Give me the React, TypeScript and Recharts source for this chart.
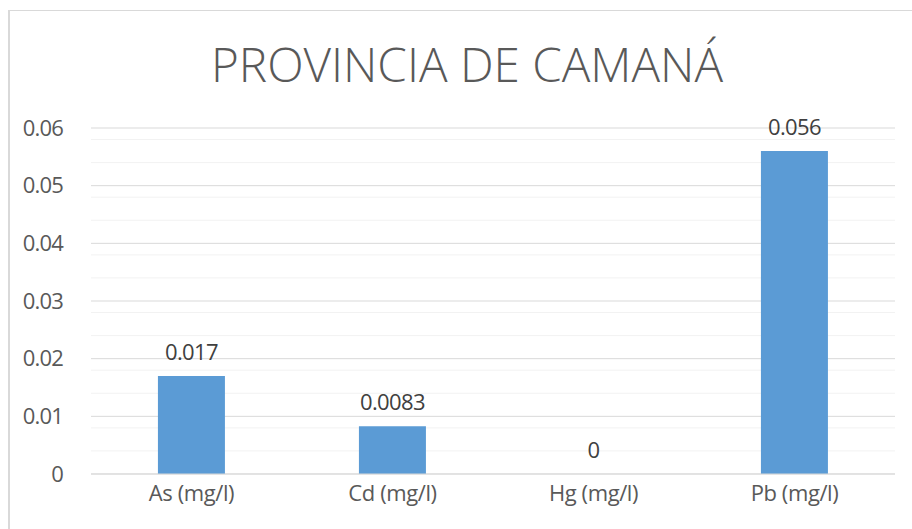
import React from "react";
import { ComposedChart, Bar, Line, XAxis, YAxis, CartesianGrid } from "recharts";

const categories = ["As (mg/l)", "Cd (mg/l)", "Hg (mg/l)", "Pb (mg/l)"];
const values = [0.017, 0.0083, 0, 0.056];
const yTicks = [0, 0.01, 0.02, 0.03, 0.04, 0.05, 0.06];
const minorTicks = [
  0.002, 0.004, 0.006, 0.008, 0.012, 0.014, 0.016, 0.018, 0.022, 0.024, 0.026, 0.028,
  0.032, 0.034, 0.036, 0.038, 0.042, 0.044, 0.046, 0.048, 0.052, 0.054, 0.056, 0.058,
];
const title = "PROVINCIA DE CAMANÁ";

const data = categories.map((c, i) => ({ name: c, value: values[i] }));

const FONT = "'Open Sans', 'Noto Sans', sans-serif";

export default function App() {
  return (
    <div
      style={{
        position: "fixed",
        left: 0,
        top: 0,
        width: 912,
        height: 529,
        overflow: "hidden",
        background: "#fff",
        fontFamily: FONT,
      }}
    >
      <div
        style={{
          position: "absolute",
          left: 8,
          top: 10,
          width: 1000,
          height: 700,
          borderTop: "1px solid #d9d9d9",
          borderLeft: "2px solid #d9d9d9",
        }}
      />
      <svg
        width={912}
        height={100}
        style={{ position: "absolute", left: 0, top: 0 }}
      >
        <text
          x={467}
          y={82}
          textAnchor="middle"
          textLength={512}
          lengthAdjust="spacingAndGlyphs"
          fontFamily={FONT}
          fontWeight={300}
          fontSize={48}
          fill="#595959"
        >
          {title}
        </text>
      </svg>
      <div style={{ position: "absolute", left: 0, top: 0 }}>
        <ComposedChart
          width={912}
          height={529}
          data={data}
          margin={{ top: 128, right: 17, bottom: 0, left: 0 }}
          barCategoryGap="33.3%"
        >
          <CartesianGrid
            vertical={false}
            horizontalValues={minorTicks}
            stroke="#f2f2f2"
            strokeWidth={1}
          />
          <CartesianGrid
            vertical={false}
            horizontalValues={yTicks}
            stroke="#d9d9d9"
            strokeWidth={1}
          />
          <XAxis
            dataKey="name"
            height={55}
            axisLine={{ stroke: "#d9d9d9" }}
            tickLine={false}
            tickMargin={5}
            tick={{ fill: "#595959", fontSize: 22, fontFamily: FONT, letterSpacing: -0.4 }}
          />
          <YAxis
            width={91}
            domain={[0, 0.06]}
            ticks={yTicks}
            axisLine={false}
            tickLine={false}
            tickMargin={22}
            tick={{ fill: "#595959", fontSize: 22, fontFamily: FONT, letterSpacing: -0.8 }}
          />
          <Bar dataKey="value" fill="#5b9bd5" isAnimationActive={false} />
          <Line
            dataKey="value"
            stroke="none"
            dot={false}
            activeDot={false}
            isAnimationActive={false}
            label={{
              position: "top",
              offset: 16,
              fill: "#404040",
              fontSize: 22,
              fontFamily: FONT,
              letterSpacing: -0.6,
            }}
          />
        </ComposedChart>
      </div>
    </div>
  );
}
